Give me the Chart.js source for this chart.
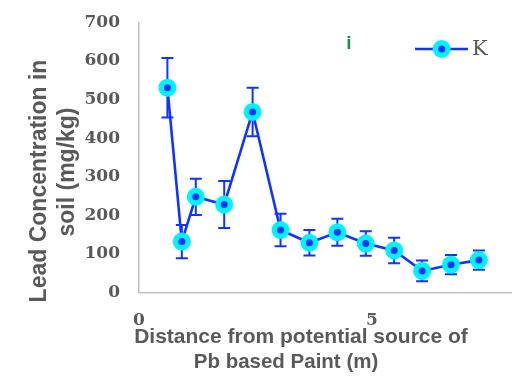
<!DOCTYPE html>
<html><head><meta charset="utf-8">
<script src="https://cdn.jsdelivr.net/npm/chart.js@4/dist/chart.umd.min.js"></script>
<style>html,body{margin:0;padding:0;background:#fff;overflow:hidden}</style>
</head><body>
<canvas id="c" width="519" height="382"></canvas>
<script>
const distances = [0.61, 0.92, 1.22, 1.83, 2.44, 3.04, 3.66, 4.26, 4.87, 5.48, 6.08, 6.70, 7.30];
const leadK     = [531, 132, 248, 228, 468, 162, 129, 156, 127, 109, 56, 72, 84];
const errorK    = [77, 43, 47, 61, 63, 42, 33, 35, 32, 33, 27, 25, 25];
const xTicks = [0, 5];
const yTicks = [0, 100, 200, 300, 400, 500, 600, 700];
const seriesName = 'K';
const yTitleLines = ['Lead Concentration in', 'soil (mg/kg)'];
const xTitleLines = ['Distance from potential source of', 'Pb based Paint (m)'];
const noteText = 'i';

const BLUE = '#1034ff';
const CYAN = '#00f2ff';
const GREY = '#595959';

const fixArea = {
  id: 'fixArea',
  afterLayout(chart) {
    const y = chart.scales.y, ca = chart.chartArea, T = 22.5;
    ca.top = T; ca.height = ca.bottom - T;
    y.top = T; y.height = y.bottom - T;
    y.configure();
  }
};

const errorBars = {
  id: 'errorBars',
  beforeDatasetsDraw(chart) {
    const ctx = chart.ctx, xs = chart.scales.x, ys = chart.scales.y;
    ctx.save();
    ctx.strokeStyle = BLUE; ctx.lineWidth = 2;
    distances.forEach((d, i) => {
      const px = xs.getPixelForValue(d);
      const top = ys.getPixelForValue(leadK[i] + errorK[i]);
      const bot = ys.getPixelForValue(leadK[i] - errorK[i]);
      ctx.beginPath();
      ctx.moveTo(px, top); ctx.lineTo(px, bot);
      ctx.moveTo(px - 6, top); ctx.lineTo(px + 6, top);
      ctx.moveTo(px - 6, bot); ctx.lineTo(px + 6, bot);
      ctx.stroke();
    });
    ctx.restore();
  }
};

const extras = {
  id: 'extras',
  afterDraw(chart) {
    const ctx = chart.ctx;
    ctx.save();
    ctx.fillStyle = GREY;
    ctx.font = 'bold 23px "Liberation Sans", Arial, sans-serif';
    ctx.textAlign = 'center'; ctx.textBaseline = 'alphabetic';
    ctx.save(); ctx.translate(46, 181); ctx.rotate(-Math.PI / 2);
    ctx.fillText(yTitleLines[0], 0, 0); ctx.restore();
    ctx.save(); ctx.translate(74, 172); ctx.rotate(-Math.PI / 2);
    ctx.fillText(yTitleLines[1], 0, 0); ctx.restore();
    ctx.font = 'bold 21px "Liberation Sans", Arial, sans-serif';
    ctx.fillText(xTitleLines[0], 301, 343);
    ctx.font = 'bold 20.5px "Liberation Sans", Arial, sans-serif';
    ctx.fillText(xTitleLines[1], 286, 368);
    ctx.strokeStyle = BLUE; ctx.lineWidth = 2.5;
    ctx.beginPath(); ctx.moveTo(415, 49); ctx.lineTo(468, 49); ctx.stroke();
    ctx.beginPath(); ctx.arc(441.7, 49, 6.25, 0, Math.PI * 2);
    ctx.fillStyle = BLUE; ctx.fill();
    ctx.strokeStyle = CYAN; ctx.lineWidth = 5.5; ctx.stroke();
    ctx.fillStyle = GREY; ctx.textAlign = 'left'; ctx.textBaseline = 'middle';
    ctx.font = '21px "DejaVu Serif", serif';
    ctx.fillText(seriesName, 472, 50);
    ctx.fillStyle = '#1e8a55'; ctx.textAlign = 'center';
    ctx.font = 'bold 19px "Liberation Sans", Arial, sans-serif';
    ctx.fillText(noteText, 349, 44);
    ctx.restore();
  }
};

new Chart(document.getElementById('c'), {
  type: 'line',
  data: {
    datasets: [{
      label: seriesName,
      data: distances.map((x, i) => ({ x: x, y: leadK[i] })),
      borderColor: BLUE, borderWidth: 2.6,
      pointRadius: 6.25, pointBorderWidth: 5.5,
      pointBackgroundColor: BLUE, pointBorderColor: CYAN,
      tension: 0, fill: false, clip: false
    }]
  },
  options: {
    responsive: false, animation: false,
    layout: { autoPadding: false, padding: { top: 22.5, right: 7.5, left: 0, bottom: 0 } },
    plugins: { legend: { display: false }, tooltip: { enabled: false } },
    scales: {
      x: {
        type: 'linear', min: 0, max: 8,
        afterBuildTicks: s => { s.ticks = xTicks.map(v => ({ value: v })); },
        afterFit: s => { s.height = 89.5; },
        grid: { display: false, drawTicks: false },
        border: { display: true, color: '#bfbfbf', width: 1.5 },
        ticks: { padding: 18, color: GREY, font: { family: '"DejaVu Serif", serif', weight: 'bold', size: 17 } }
      },
      y: {
        type: 'linear', min: 0, max: 700,
        afterBuildTicks: s => { s.ticks = yTicks.map(v => ({ value: v })); },
        afterFit: s => { s.width = 139; },
        grid: { display: false, drawTicks: false },
        border: { display: true, color: '#bfbfbf', width: 1.5 },
        ticks: { padding: 19, color: GREY, font: { family: '"DejaVu Serif", serif', weight: 'bold', size: 17 } }
      }
    }
  },
  plugins: [fixArea, errorBars, extras]
});
</script>
</body></html>
